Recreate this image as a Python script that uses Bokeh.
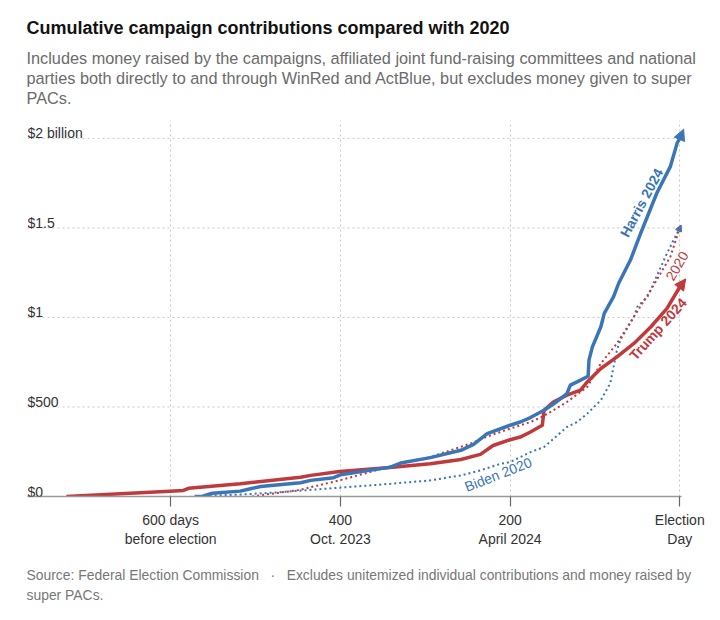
import math
from bokeh.plotting import figure
from bokeh.models import Range1d, FixedTicker, Label, Arrow, NormalHead, Title
from bokeh.embed import file_html
from bokeh.resources import INLINE

# ---- data: days before election, cumulative $ millions ----
trump24_days = [723, 601, 585, 579, 518, 447, 435, 401, 345, 294, 258, 235, 220, 200, 188, 176, 162, 160,
                149, 133, 117, 109, 93, 74, 54, 34, 15, 0]
trump24_vals = [0, 30, 34, 46, 71, 108, 118, 140, 161, 183, 207, 235, 285, 317, 332, 360, 398, 482,
                528, 566, 594, 640, 715, 780, 855, 948, 1051, 1170]

harris24_days = [572, 563, 551, 518, 506, 494, 447, 435, 408, 400, 341, 329, 294, 258, 243, 227, 200, 188,
                 176, 160, 148, 133, 129, 121, 108, 107, 103, 93, 89, 78, 72, 58, 46, 27, 11, 3, 0]
harris24_vals = [0, 0, 18, 30, 43, 56, 77, 90, 105, 121, 164, 187, 217, 258, 291, 351, 398, 416,
                 441, 482, 519, 575, 622, 640, 672, 762, 836, 948, 1023, 1116, 1191, 1322, 1471, 1695, 1844, 1975, 2000]

trump20_days = [504, 490, 447, 435, 401, 341, 294, 247, 227, 200, 176, 160, 133, 109, 93, 74, 54, 34, 11, 0]
trump20_vals = [0, 10, 37, 52, 90, 168, 220, 295, 335, 379, 416, 450, 528, 612, 743, 855, 1004, 1154, 1340, 1500]

biden20_days = [560, 520, 471, 401, 341, 294, 258, 235, 211, 200, 176, 160, 133, 121, 109, 93, 82, 74, 70,
                54, 50, 38, 15, 0]
biden20_vals = [5, 10, 24, 49, 71, 90, 118, 146, 183, 192, 248, 276, 388, 416, 463, 538, 631, 818, 874,
                1004, 1060, 1116, 1359, 1500]

x_ticks = [600, 400, 200, 0]
x_tick_labels = ["600 days\nbefore election", "400\nOct. 2023", "200\nApril 2024", "Election\nDay"]
y_ticks = [0, 500, 1000, 1500, 2000]
y_tick_labels = ["$0", "$500", "$1", "$1.5", "$2 billion"]

BLUE = "#3a76b7"
RED = "#c0393b"
FONT = "Liberation Sans"
GRID = "#c8c8c8"

X_START, X_END = 768.8, -20.9

p = figure(width=712, height=612, output_backend="svg", toolbar_location=None,
           x_range=Range1d(X_START, X_END), y_range=Range1d(0, 2100),
           y_axis_location=None,
           min_border_left=27, min_border_right=15, min_border_top=0, min_border_bottom=0)
p.outline_line_color = None
p.background_fill_color = "white"
p.border_fill_color = "white"
p.title = None

ax = p.xaxis[0]
ax.ticker = FixedTicker(ticks=x_ticks)
ax.bounds = (-1.5, X_START)
ax.major_label_overrides = {t: l for t, l in zip(x_ticks, x_tick_labels)}
ax.axis_line_color = "#9a9a9a"
ax.axis_line_width = 1.5
ax.major_tick_line_color = "#666666"
ax.major_tick_line_width = 1.2
ax.major_tick_out = 10
ax.major_tick_in = 0
ax.minor_tick_out = 0
ax.minor_tick_in = 0
ax.major_label_standoff = 5
ax.major_label_text_font = FONT
ax.major_label_text_font_size = "14px"
ax.major_label_text_color = "#333333"

p.xgrid.grid_line_color = GRID
p.xgrid.grid_line_dash = "2 3"
p.xgrid.grid_line_width = 1
p.ygrid.grid_line_color = None

# horizontal gridlines only up to Election Day
hy = y_ticks[1:]
p.segment(x0=[X_START] * len(hy), y0=hy, x1=[0] * len(hy), y1=hy,
          line_color=GRID, line_dash="2 3", line_width=1)

# y tick labels inside the plot, above gridlines
for v, t in zip(y_ticks, y_tick_labels):
    p.add_layout(Label(x=X_START, y=v, text=t, y_offset=5, text_align="left",
                       text_baseline="alphabetic", text_font=FONT, text_font_size="14px",
                       text_color="#333333"))

# lines
p.line(biden20_days, biden20_vals, line_color=BLUE, line_width=2, line_dash="2 3")
p.line(trump20_days, trump20_vals, line_color=RED, line_width=2, line_dash="2 3")
p.line(trump24_days, trump24_vals, line_color=RED, line_width=3.5, line_join="round")
p.line(harris24_days, harris24_vals, line_color=BLUE, line_width=3.5, line_join="round")

PX_PER_DAY = 0.8485
PX_PER_M = 1 / 5.6


def add_arrow(days, vals, color, lw, size, back, ext):
    x0, y0 = days[-1 - back], vals[-1 - back]
    x1, y1 = days[-1], vals[-1]
    dx = (x0 - x1) * PX_PER_DAY
    dy = (y1 - y0) * PX_PER_M
    n = math.hypot(dx, dy)
    tx = x1 - dx / n * ext / PX_PER_DAY
    ty = y1 + dy / n * ext / PX_PER_M
    p.add_layout(Arrow(end=NormalHead(size=size, fill_color=color, line_color=color, line_width=1),
                       x_start=x1, y_start=y1, x_end=tx, y_end=ty,
                       line_color=color, line_width=lw))


add_arrow(harris24_days, harris24_vals, BLUE, 3.5, 11, 3, 10)
add_arrow(trump24_days, trump24_vals, RED, 3.5, 11, 2, 10)
add_arrow(trump20_days, trump20_vals, RED, 1.5, 6, 2, 3)
add_arrow(biden20_days, biden20_vals, BLUE, 1.5, 6, 2, 3)


def series_label(x, y, text, color, deg, bold):
    p.add_layout(Label(x=x, y=y, text=text, angle=math.radians(deg), text_align="center",
                       text_baseline="middle", text_font=FONT, text_font_size="14px",
                       text_font_style="bold" if bold else "normal", text_color=color))


series_label(45, 1641, "Harris 2024", BLUE, 62, True)
series_label(25.7, 935, "Trump 2024", RED, 48, True)
series_label(3.3, 1288, "2020", RED, 60, False)
series_label(214, 123, "Biden 2020", BLUE, 21.5, False)


# titles (stacked outward from the frame) and notes below
def title(text, size, color, place, standoff, bold=False):
    p.add_layout(Title(text=text, align="left", offset=-1, standoff=standoff,
                       text_font=FONT, text_font_size=size, text_color=color,
                       text_font_style="bold" if bold else "normal"), place)


SUB = "#6b6b6b"
title(" ", "8px", "white", "above", 3)          # spacing
title("PACs.", "16.3px", SUB, "above", 0)
title("parties both directly to and through WinRed and ActBlue, but excludes money given to super", "16.3px", SUB, "above", 0)
title("Includes money raised by the campaigns, affiliated joint fund-raising committees and national", "16.3px", SUB, "above", 0)
title("Cumulative campaign contributions compared with 2020", "18px", "#121212", "above", 17, True)
title(" ", "1px", "white", "above", 4)          # spacing

NOTE = "#777777"
GAP = "\u00a0\u00a0\u00a0"
title(" ", "8px", "white", "below", 4)          # spacing
title("Source: Federal Election Commission" + GAP + "\u00b7" + GAP +
      "Excludes unitemized individual contributions and money raised by", "13.9px", NOTE, "below", 0)
title("super PACs.", "13.9px", NOTE, "below", 4)
title(" ", "1px", "white", "below", 5)          # spacing

open("out.html", "w").write(file_html(p, INLINE))
